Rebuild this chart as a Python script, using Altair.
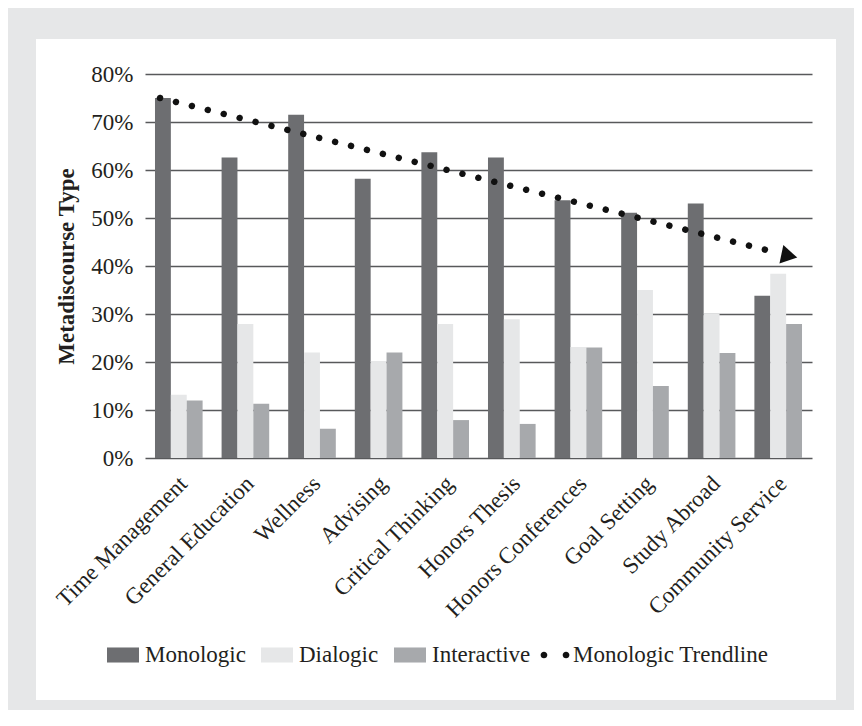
import altair as alt
import pandas as pd

categories = ["Time Management", "General Education", "Wellness", "Advising",
              "Critical Thinking", "Honors Thesis", "Honors Conferences",
              "Goal Setting", "Study Abroad", "Community Service"]
series_names = ["Monologic", "Dialogic", "Interactive"]
monologic = [75.0, 62.6, 71.5, 58.2, 63.7, 62.6, 53.7, 51.1, 53.0, 33.8]
dialogic = [13.2, 27.9, 22.0, 20.2, 27.9, 28.9, 23.1, 35.0, 30.1, 38.4]
interactive = [12.0, 11.3, 6.1, 22.0, 7.9, 7.1, 23.0, 15.0, 21.9, 27.9]

# trendline (category index units, percent)
trend_name = ["Monologic Trendline"]
trend_x = [0.725, 9.8]
trend_y = [75.0, 43.4]
arrow_x = [10.16]
arrow_y = [42.1]

y_ticks = [0, 10, 20, 30, 40, 50, 60, 70, 80]
colors = ["#6d6e71", "#e6e7e8", "#a7a9ac"]

FONT = "Liberation Serif"
TXT = "#231f20"

rows = []
for i, c in enumerate(categories):
    for s, vals in zip(series_names, [monologic, dialogic, interactive]):
        rows.append({"category": c, "series": s, "value": vals[i]})
df = pd.DataFrame(rows)
trend_df = pd.DataFrame({"x": trend_x, "y": trend_y})
arrow_df = pd.DataFrame({"x": arrow_x, "y": arrow_y, "name": trend_name})

rect_path = "M-1,-0.47L1,-0.47L1,0.47L-1,0.47Z"
dots_path = ("M-0.65,0A0.21,0.21,0,1,0,-0.23,0A0.21,0.21,0,1,0,-0.65,0Z"
             "M0.73,0A0.21,0.21,0,1,0,1.15,0A0.21,0.21,0,1,0,0.73,0Z")

yscale = alt.Scale(domain=[0, 80], nice=False)
xq = alt.Scale(domain=[0.5, 10.5], nice=False, zero=False)

frame = alt.Chart(pd.DataFrame({"a": [0]})).mark_rect(
    filled=False, stroke="#e6e7e8", strokeWidth=64
).encode(
    x=alt.value(-141), x2=alt.value(723), y=alt.value(-67), y2=alt.value(658)
)

bars = alt.Chart(df).mark_bar().encode(
    x=alt.X("category:N", sort=categories, title=None,
            scale=alt.Scale(paddingInner=0.285, paddingOuter=0.15),
            axis=alt.Axis(labelAngle=-45, labelFont=FONT, labelFontSize=23,
                          labelColor=TXT, ticks=False, domain=False,
                          labelPadding=14, labelOffset=-3, grid=False,
                          labelLimit=0)),
    xOffset=alt.XOffset("series:N", sort=series_names),
    y=alt.Y("value:Q", scale=yscale, title="Metadiscourse Type",
            axis=alt.Axis(values=y_ticks, labelExpr="datum.value + '%'",
                          labelFont=FONT, labelFontSize=23, labelColor=TXT,
                          ticks=False, domain=False, labelPadding=12,
                          gridColor="#58595b", gridWidth=1.4, gridOpacity=1,
                          titleFont=FONT, titleFontSize=23, titleFontWeight="bold",
                          titleColor=TXT, titlePadding=12)),
    color=alt.Color("series:N",
                    scale=alt.Scale(domain=series_names, range=colors),
                    legend=alt.Legend(
                        orient="none", legendX=-38, legendY=565,
                        direction="horizontal", title=None,
                        labelFont=FONT, labelFontSize=23, labelColor=TXT,
                        symbolType=rect_path, symbolSize=1024, symbolStrokeWidth=0,
                        labelOffset=6, columnPadding=15, padding=0, labelLimit=0)),
)

trend = alt.Chart(trend_df).mark_line(
    color="#111111", strokeWidth=6.5, strokeDash=[0.01, 16.4], strokeCap="round"
).encode(
    x=alt.X("x:Q", scale=xq, axis=None),
    y=alt.Y("y:Q", scale=yscale),
)

arrow = alt.Chart(arrow_df).mark_point(
    shape="triangle-right", filled=True, fill="#111111", strokeWidth=0,
    size=350, angle=12, opacity=1
).encode(
    x=alt.X("x:Q", scale=xq, axis=None),
    y=alt.Y("y:Q", scale=yscale),
)

# tiny point under the arrow, only to carry the trendline legend entry
trend_legend = alt.Chart(arrow_df).mark_point(
    filled=True, color="#111111", size=1, opacity=1
).encode(
    x=alt.X("x:Q", scale=xq, axis=None),
    y=alt.Y("y:Q", scale=yscale),
    shape=alt.Shape("name:N",
                    scale=alt.Scale(domain=trend_name, range=[dots_path]),
                    legend=alt.Legend(
                        orient="none", legendX=390, legendY=565,
                        title=None, labelFont=FONT, labelFontSize=23,
                        labelColor=TXT, symbolSize=1024, symbolStrokeWidth=0,
                        symbolFillColor="#111111", symbolOpacity=1,
                        labelOffset=6, padding=0, labelLimit=0)),
)

chart = alt.layer(frame, bars, trend, arrow, trend_legend).resolve_scale(
    x="independent"
).properties(
    width=667, height=384,
    autosize=alt.AutoSizeParams(type="none"),
    padding={"left": 137, "right": 42, "top": 66, "bottom": 252},
    background="white",
).configure_view(strokeWidth=0)

chart.save("out.html", embed_options={"renderer": "svg", "actions": False})
